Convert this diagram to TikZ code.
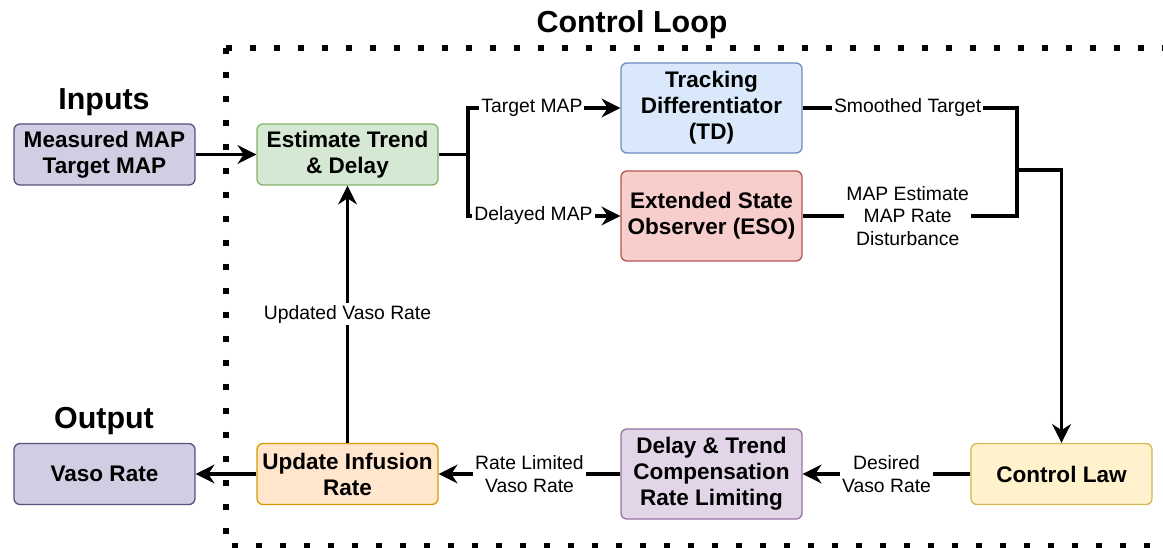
\documentclass[tikz,border=0pt]{standalone}
\usepackage{fontspec}
\setmainfont{Liberation Sans}
\usetikzlibrary{arrows.meta}
\definecolor{LoopLavender}{HTML}{D0CEE2}
\definecolor{LoopLavenderDark}{HTML}{56517E}
\definecolor{LoopGreen}{HTML}{D5E8D4}
\definecolor{LoopGreenDark}{HTML}{82B366}
\definecolor{LoopBlue}{HTML}{DAE8FC}
\definecolor{LoopBlueDark}{HTML}{6C8EBF}
\definecolor{LoopRed}{HTML}{F8CECC}
\definecolor{LoopRedDark}{HTML}{B85450}
\definecolor{LoopYellow}{HTML}{FFF2CC}
\definecolor{LoopYellowDark}{HTML}{D6B656}
\definecolor{LoopPurple}{HTML}{E1D5E7}
\definecolor{LoopPurpleDark}{HTML}{9673A6}
\definecolor{LoopOrange}{HTML}{FFE6CC}
\definecolor{LoopOrangeDark}{HTML}{D79B00}

\begin{document}
\begin{tikzpicture}[>={Stealth[length=14pt,width=14pt,inset=4.5pt]},x=0.75pt,y=-0.75pt,
  box/.style={draw,rounded corners=4.5pt,line width=1pt,minimum width=135.75pt,minimum height=45.75pt,
    inner sep=0pt,align=center,font=\bfseries\fontsize{16.9}{19.5}\selectfont},
  tallbox/.style={box,minimum height=67.5pt},
  wire/.style={line width=2.4pt},
  flow/.style={wire,->},
  lbl/.style={fill=white,inner sep=1.5pt,align=center,font=\fontsize{14.5}{17}\selectfont},
  head/.style={font=\bfseries\fontsize{22.8}{26}\selectfont},
  frame/.style={line width=4.5pt,dash pattern=on 4.5pt off 13.5pt}]
\useasboundingbox (0,0) rectangle (1163,548);
\begin{scope}
\clip (0,0) rectangle (1163,548);
\draw[frame] (226,48) -- (1190,48);
\draw[frame] (226,48) -- (226,546) -- (1190,546);
\end{scope}
\node[head] (loophead) at (632,25) {Control Loop};
\node[head] (inhead) at (104,102) {Inputs};
\node[head] (outhead) at (104,421) {Output};
\node[box,fill=LoopLavender,draw=LoopLavenderDark] (inp) at (104.5,154.5) {Measured MAP\\Target MAP};
\node[box,fill=LoopGreen,draw=LoopGreenDark] (est) at (347.5,154.5) {Estimate Trend\\\& Delay};
\node[tallbox,fill=LoopBlue,draw=LoopBlueDark] (td) at (711.5,108) {Tracking\\Differentiator\\(TD)};
\node[tallbox,fill=LoopRed,draw=LoopRedDark] (eso) at (711.5,216) {Extended State\\Observer (ESO)};
\node[box,fill=LoopYellow,draw=LoopYellowDark] (ctl) at (1061.5,474) {Control Law};
\node[tallbox,fill=LoopPurple,draw=LoopPurpleDark] (comp) at (711.5,474) {Delay \& Trend\\Compensation\\Rate Limiting};
\node[box,fill=LoopOrange,draw=LoopOrangeDark] (upd) at (347.5,474) {Update Infusion\\Rate};
\node[box,fill=LoopLavender,draw=LoopLavenderDark] (out) at (104.5,474) {Vaso Rate};
\coordinate (split) at (468,154.5);
\coordinate (merge) at (1017,170);
\draw[flow] (inp) -- (est);
\draw[flow] (est) -- (split) |- node[lbl,pos=0.71] {Target MAP} (td);
\draw[flow] (split) |- node[lbl,pos=0.715] {Delayed MAP} (eso);
\draw[wire] (td) -| node[lbl,pos=0.245] {Smoothed Target} (merge);
\draw[wire] (eso) -| node[lbl,pos=0.245] {MAP Estimate\\MAP Rate\\Disturbance} (merge);
\draw[flow] (merge) -| (ctl);
\draw[flow] (ctl) -- node[lbl] {Desired\\Vaso Rate} (comp);
\draw[flow] (comp) -- node[lbl] {Rate Limited\\Vaso Rate} (upd);
\draw[flow] (upd) -- (out);
\draw[flow] (upd) -- node[lbl] {Updated Vaso Rate} (est);
\end{tikzpicture}
\end{document}
